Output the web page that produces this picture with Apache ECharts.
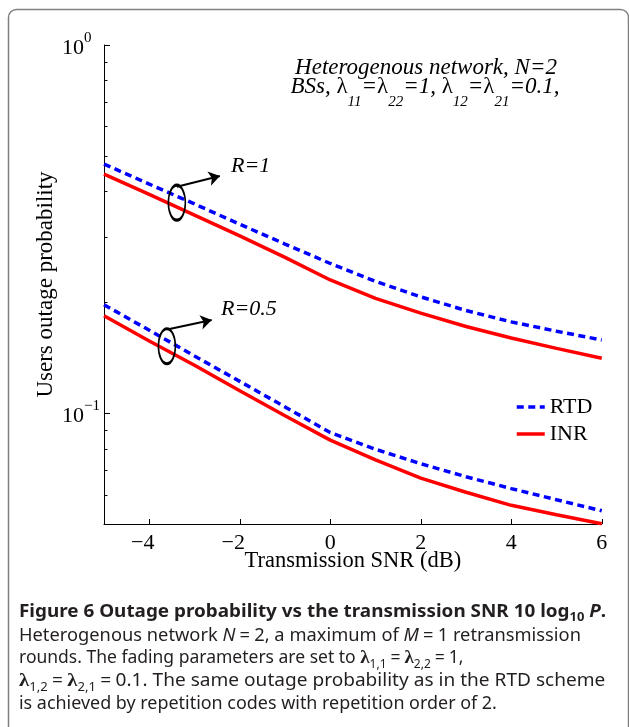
<!DOCTYPE html>
<html>
<head>
<meta charset="utf-8">
<script src="https://cdn.jsdelivr.net/npm/echarts@6/dist/echarts.min.js"></script>
<style>
  html, body { margin: 0; padding: 0; background: #fff; }
  #chart { width: 629px; height: 727px; }
</style>
</head>
<body>
<div id="chart"></div>
<script>
// transmission SNR (dB)
const snr = [-5, -4, -3, -2, -1, 0, 1, 2, 3, 4, 5, 6];
// users outage probability, R = 1
const rtdR1 = [0.475, 0.419, 0.370, 0.326, 0.288, 0.255, 0.228, 0.207, 0.190, 0.177, 0.167, 0.158];
const inrR1 = [0.446, 0.393, 0.345, 0.303, 0.265, 0.230, 0.205, 0.187, 0.172, 0.160, 0.150, 0.141];
// users outage probability, R = 0.5
const rtdR05 = [0.197, 0.168, 0.143, 0.122, 0.104, 0.0886, 0.0798, 0.0729, 0.0672, 0.0624, 0.0582, 0.0543];
const inrR05 = [0.184, 0.157, 0.135, 0.115, 0.0984, 0.0845, 0.0747, 0.0666, 0.0610, 0.0562, 0.0530, 0.0501];

// ticks
const xTicks = [-4, -2, 0, 2, 4, 6];
const yMajor = [0.1, 1];
const yMinor = [0.06, 0.07, 0.08, 0.09, 0.2, 0.3, 0.4, 0.5, 0.6, 0.7, 0.8, 0.9];

// annotation rings and arrows (data coords)
const ringR1 = [-3.39, 0.373];
const arrowR1 = [[-3.39, 0.412], [-2.44, 0.441]];
const ringR05 = [-3.61, 0.152];
const arrowR05 = [[-3.58, 0.169], [-2.62, 0.179]];

const serif = "'Liberation Serif', 'Times New Roman', serif";
const sans = "'Noto Sans', sans-serif";
const blue = '#0000ff';
const red = '#ff0000';

const chart = echarts.init(document.getElementById('chart'));

function pairs(ys) {
  return snr.map((x, i) => [x, ys[i]]);
}

function ring(coord) {
  return {
    silent: true,
    symbol: 'path://M0,-10A5,10,0,1,1,0,10A5,10,0,1,1,0,-10Z',
    symbolSize: [17, 35],
    itemStyle: { color: 'rgba(0,0,0,0)', borderColor: '#000', borderWidth: 2.2 },
    label: { show: false },
    data: [{ coord: coord }]
  };
}

function arrow(seg) {
  return {
    silent: true,
    symbol: ['none', 'arrow'],
    symbolSize: 11,
    lineStyle: { color: '#000', width: 2, type: 'solid' },
    itemStyle: { color: '#000' },
    label: { show: false },
    data: [[{ coord: seg[0] }, { coord: seg[1] }]]
  };
}

function line(name, ys, color, dashed) {
  return {
    name: name,
    type: 'line',
    data: pairs(ys),
    symbol: 'none',
    showSymbol: false,
    color: color,
    lineStyle: { color: color, width: 3.5, type: dashed ? [7, 4.5] : 'solid' },
    emphasis: { disabled: true }
  };
}

const sR1 = line('RTD', rtdR1, blue, true);
sR1.markPoint = ring(ringR1);
sR1.markLine = arrow(arrowR1);
const sR05 = line('RTD', rtdR05, blue, true);
sR05.markPoint = ring(ringR05);
sR05.markLine = arrow(arrowR05);

const it = { fontFamily: serif, fontStyle: 'italic', fontSize: 23, lineHeight: 46, fill: '#000' };
const lam = { fontFamily: serif, fontSize: 23, lineHeight: 46, fill: '#000' };
const sub = { fontFamily: serif, fontStyle: 'italic', fontSize: 15, lineHeight: 16, verticalAlign: 'bottom', fill: '#000' };

const cap = { fontFamily: sans, fontSize: 17.5, lineHeight: 24, fill: '#231f20' };
const capB = Object.assign({}, cap, { fontWeight: 'bold' });
const capBI = Object.assign({}, capB, { fontStyle: 'italic' });
const capBS = Object.assign({}, capB, { fontSize: 12, lineHeight: 12, verticalAlign: 'bottom' });
const capI = Object.assign({}, cap, { fontStyle: 'italic' });
const capS = Object.assign({}, cap, { fontSize: 12, lineHeight: 12, verticalAlign: 'bottom' });
const capL = Object.assign({}, cap, { fontFamily: serif, fontSize: 19, fontWeight: 'bold' });
const capEq = Object.assign({}, cap, { padding: [0, 4, 0, 4] });
const capRich = { b: capB, bi: capBI, bs: capBS, r: cap, ri: capI, rs: capS, l: capL, e: capEq };

function capLine(y, text, sx) {
  return {
    type: 'text', x: 19, y: y, scaleX: sx, silent: true,
    style: { text: text, rich: capRich, align: 'left', verticalAlign: 'middle' }
  };
}

chart.setOption({
  animation: false,
  grid: { left: 104, right: 27.25, top: 45, bottom: 203, containLabel: false },
  legend: {
    data: ['RTD', 'INR'],
    orient: 'vertical',
    left: 510, top: 390,
    itemWidth: 28, itemHeight: 14, itemGap: 3,
    selectedMode: false,
    lineStyle: { width: 3.5 },
    itemStyle: { opacity: 0 },
    textStyle: { fontFamily: serif, fontSize: 22, lineHeight: 24, color: '#000' }
  },
  xAxis: {
    type: 'value', min: -5, max: 6,
    axisLine: { onZero: false, lineStyle: { color: '#000', width: 1 } },
    axisTick: { inside: true, length: 5, customValues: xTicks, lineStyle: { color: '#000' } },
    axisLabel: {
      customValues: xTicks,
      formatter: v => v < 0 ? '{n|\u2212' + (-v) + '}' : '{p|' + v + '}',
      margin: 8,
      rich: {
        n: { fontFamily: serif, fontSize: 22, color: '#000', padding: [0, 13, 0, 0] },
        p: { fontFamily: serif, fontSize: 22, color: '#000' }
      }
    },
    splitLine: { show: false },
    name: 'Transmission SNR (dB)', nameLocation: 'middle', nameGap: 26, nameMoveOverlap: false,
    nameTextStyle: { fontFamily: serif, fontSize: 22.5, color: '#000' }
  },
  yAxis: [{
    type: 'log', logBase: 10, min: 0.05, max: 1, position: 'left',
    axisLine: { show: true, onZero: false, lineStyle: { color: '#000', width: 1 } },
    axisTick: { inside: true, length: 6, customValues: yMajor, lineStyle: { color: '#000' } },
    axisLabel: {
      customValues: yMajor,
      align: 'left', margin: 42,
      formatter: v => '{b|10}{s|' + (Math.round(Math.log10(v)) < 0 ? '\u2212' + (-Math.round(Math.log10(v))) : Math.round(Math.log10(v))) + '}',
      padding: [7, 0, 0, 0],
      rich: {
        b: { fontFamily: serif, fontSize: 22, lineHeight: 36, color: '#000' },
        s: { fontFamily: serif, fontSize: 15, lineHeight: 14, verticalAlign: 'top', color: '#000' }
      }
    },
    splitLine: { show: false },
    name: 'Users outage probability', nameLocation: 'middle', nameGap: 47, nameMoveOverlap: false,
    nameTextStyle: { fontFamily: serif, fontSize: 23, color: '#000' }
  }, {
    type: 'log', logBase: 10, min: 0.05, max: 1, position: 'left',
    axisLine: { show: false, onZero: false },
    axisTick: { inside: true, length: 3.5, customValues: yMinor, lineStyle: { color: '#000' } },
    axisLabel: { show: false },
    splitLine: { show: false }
  }],
  series: [
    sR1,
    line('INR', inrR1, red, false),
    sR05,
    line('INR', inrR05, red, false)
  ],
  graphic: [
    {
      type: 'rect', silent: true,
      shape: { x: 8.5, y: 9.5, width: 620, height: 760, r: 8 },
      style: { fill: 'none', stroke: '#808080', lineWidth: 1.5 }
    },
    {
      type: 'text', x: 426, y: 68, silent: true,
      style: { text: 'Heterogenous network, N=2', font: "italic 23px " + serif, fill: '#000', align: 'center', verticalAlign: 'middle' }
    },
    {
      type: 'text', x: 425, y: 87, silent: true,
      style: {
        text: '{i|BSs, }{l|\u03bb}{s|11}{i|=}{l|\u03bb}{s|22}{i|=1, }{l|\u03bb}{s|12}{i|=}{l|\u03bb}{s|21}{i|=0.1,}',
        rich: { i: it, l: lam, s: sub },
        align: 'center', verticalAlign: 'middle'
      }
    },
    {
      type: 'text', x: 231, y: 166, silent: true,
      style: { text: 'R=1', font: "italic 22px " + serif, fill: '#000', align: 'left', verticalAlign: 'middle' }
    },
    {
      type: 'text', x: 221, y: 309, silent: true,
      style: { text: 'R=0.5', font: "italic 22px " + serif, fill: '#000', align: 'left', verticalAlign: 'middle' }
    },
    capLine(612, '{b|Figure 6 Outage probability vs the transmission SNR 10 log}{bs|10}{b| }{bi|P}{b|.}', 1.079),
    capLine(636, '{r|Heterogenous network }{ri|N}{e|=}{r|2, a maximum of }{ri|M}{e|=}{r|1 retransmission}', 1.045),
    capLine(658.5, '{r|rounds. The fading parameters are set to }{l|\u03bb}{rs|1,1}{e|=}{l|\u03bb}{rs|2,2}{e|=}{r|1,}', 1.0),
    capLine(681.5, '{l|\u03bb}{rs|1,2}{e|=}{l|\u03bb}{rs|2,1}{e|=}{r|0.1. The same outage probability as in the RTD scheme}', 1.09),
    capLine(704, '{r|is achieved by repetition codes with repetition order of 2.}', 1.024)
  ]
});
</script>
</body>
</html>
